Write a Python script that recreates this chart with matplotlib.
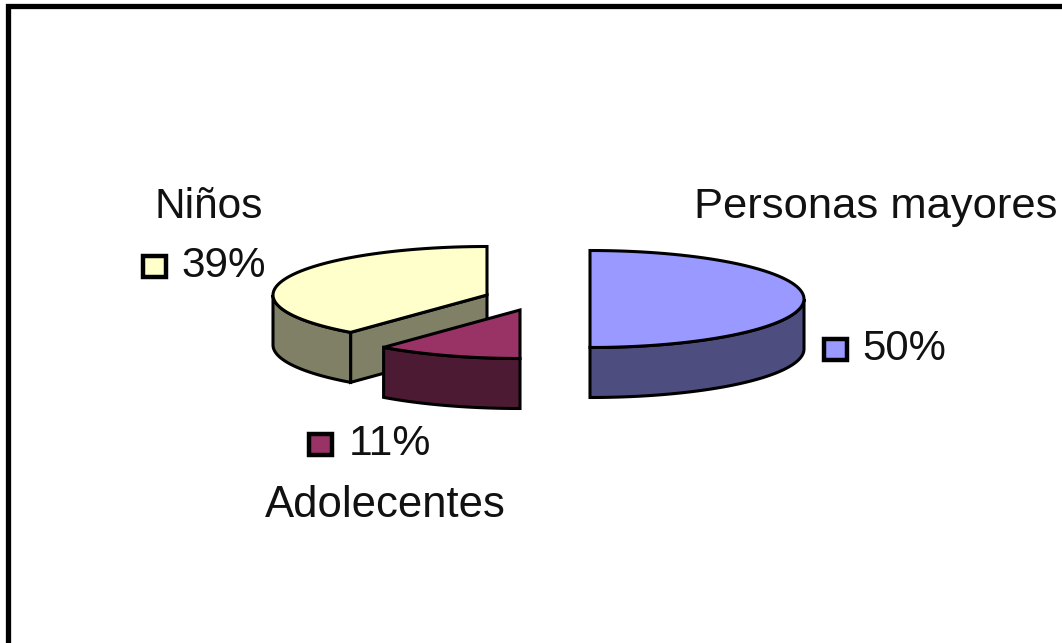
"""
Exploded 3D style pie, drawn by hand because matplotlib has no 3D pie.
"""

import numpy as np
import matplotlib.pyplot as plt
from matplotlib.patches import Rectangle

plt.rcParams["font.family"] = ["Liberation Sans", "DejaVu Sans"]

# Data, clockwise from the top of the pie
names = ["Personas mayores", "Adolecentes", "Niños"]
shares = [50, 11, 39]

top_colors = ["#9999FF", "#993366", "#FFFFCC"]
side_colors = ["#4D4D80", "#4D1A33", "#808066"]

# Layout, in image pixels
centers = [(590, 299), (520, 310), (487, 295)]
name_pos = [(694, 218), (265, 517), (155, 218)]
name_size = [31.3, 31.4, 30.5]
pct_pos = [(862, 360), (349, 455), (181, 277)]
pct_size = [30.2, 30.8, 30.4]
key_pos = [(835.5, 349.5), (320, 444), (154.5, 266.5)]
rx, ry = 214, 48.5
depth = 50
edge = 2.2


def rim(cx, cy, start, stop, drop=0):
    # angles in degrees, clockwise from the top of the ellipse
    theta = np.radians(np.linspace(start, stop, 80))
    return cx + rx * np.sin(theta), cy - ry * np.cos(theta) + drop


fig: plt.Figure = plt.figure(figsize=(10.62, 6.43), dpi=100)
ax: plt.Axes = fig.add_axes([0, 0, 1, 1])
ax.set_xlim(0, 1062)
ax.set_ylim(643, 0)
ax.axis("off")

# Frame only shows on the top and the left
ax.plot([7.5, 7.5, 1062], [643, 5.5, 5.5], color="black", lw=3.8, solid_joinstyle="miter")

# Far slices first so the nearer ones overlap them
for i in [2, 1, 0]:
    cx, cy = centers[i]
    start = sum(shares[:i]) * 3.6
    stop = start + shares[i] * 3.6

    # cut face that looks to the viewer (only the yellow slice has one)
    if start > 180:
        ex, ey = rim(cx, cy, start, start)
        ax.fill(
            [cx, ex[0], ex[0], cx],
            [cy, ey[0], ey[0] + depth, cy + depth],
            facecolor=side_colors[i],
            edgecolor="black",
            lw=edge,
        )

    # outer wall, only the front half of the rim
    wall_start = max(start, 90)
    wall_stop = min(stop, 270)
    if wall_stop > wall_start:
        x1, y1 = rim(cx, cy, wall_start, wall_stop)
        x2, y2 = rim(cx, cy, wall_start, wall_stop, depth)
        ax.fill(
            np.r_[x1, x2[::-1]],
            np.r_[y1, y2[::-1]],
            facecolor=side_colors[i],
            edgecolor="black",
            lw=edge,
        )

    # top surface
    x, y = rim(cx, cy, start, stop)
    ax.fill(np.r_[cx, x], np.r_[cy, y], facecolor=top_colors[i], edgecolor="black", lw=edge)

# Labels and the small colour keys
for i in range(3):
    ax.text(*name_pos[i], names[i], fontsize=name_size[i], color="#111111", va="baseline")
    ax.text(*pct_pos[i], f"{shares[i]}%", fontsize=pct_size[i], color="#111111", va="baseline")
    kx, ky = key_pos[i]
    ax.add_patch(
        Rectangle((kx - 11.5, ky - 10.5), 23, 21, facecolor=top_colors[i], edgecolor="black", lw=3.2)
    )

plt.savefig(fname="out.png", dpi=100)
